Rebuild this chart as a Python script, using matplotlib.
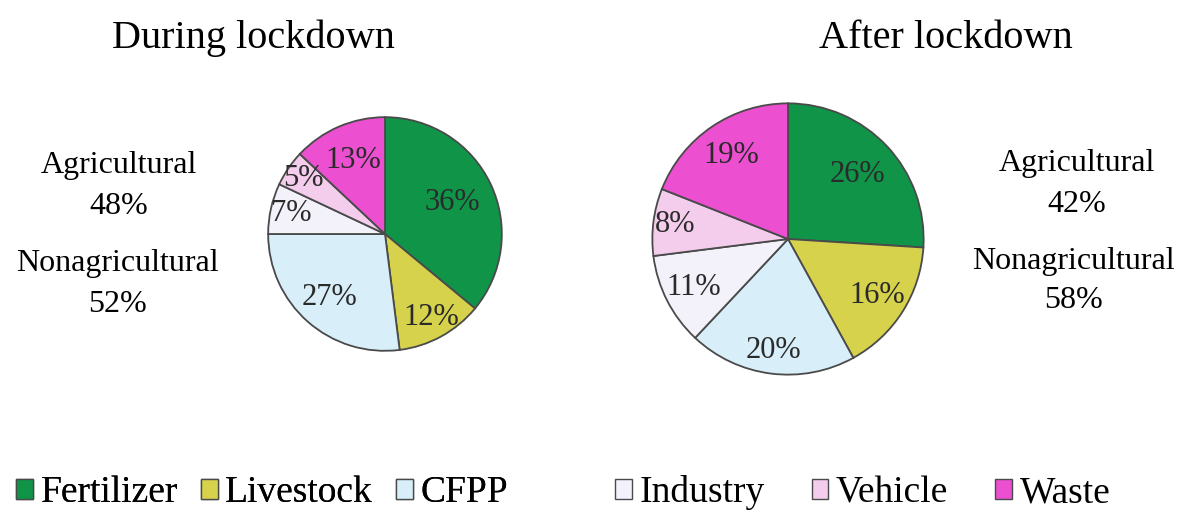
import matplotlib.pyplot as plt
from matplotlib.patches import Patch
import numpy as np

plt.rcParams['font.family'] = ['Liberation Serif', 'DejaVu Serif']

sources = ['Fertilizer', 'Livestock', 'CFPP', 'Industry', 'Vehicle', 'Waste']
during = [36, 12, 27, 7, 5, 13]
after = [26, 16, 20, 11, 8, 19]
agri_during, nonagri_during = 48, 52
agri_after, nonagri_after = 42, 58

colors = ['#0f9448', '#d6d24c', '#d8eef9', '#f3f1f9', '#f3cdeb', '#ec4fd0']
edge = '#4a4a4a'

W, H = 1181, 513
fig = plt.figure(figsize=(W / 100, H / 100), dpi=100)


def pie_at(cx, cy, r, values, label_r):
    # axes placed in pixel units so the pie lands where it should
    ax = fig.add_axes([(cx - r) / W, (H - cy - r) / H, 2 * r / W, 2 * r / H])
    wedges, _ = ax.pie(values, colors=colors, startangle=90, counterclock=False,
                       radius=1, wedgeprops=dict(edgecolor=edge, linewidth=1.3))
    for w, v, lr in zip(wedges, values, label_r):
        mid = np.deg2rad((w.theta1 + w.theta2) / 2)
        ax.text(lr * np.cos(mid), lr * np.sin(mid), f'{v}%', ha='center', va='center',
                fontsize=22, color='#2a2a2a')
    ax.set_xlim(-1.01, 1.01)
    ax.set_ylim(-1.01, 1.01)
    ax.axis('off')
    return ax


pie_at(385, 234, 118, during, [0.64, 0.82, 0.72, 0.82, 0.84, 0.69])
pie_at(788, 239, 137, after, [0.70, 0.78, 0.83, 0.78, 0.84, 0.74])

# titles
fig.text(253 / W, 1 - 38 / H, 'During lockdown', ha='center', va='center', fontsize=29)
fig.text(946 / W, 1 - 38 / H, 'After lockdown', ha='center', va='center', fontsize=29)

# sector totals
def share(x, y_top, name, pct):
    fig.text(x / W, 1 - y_top / H, name, ha='center', va='center', fontsize=23)
    fig.text(x / W, 1 - (y_top + 40) / H, f'{pct}%', ha='center', va='center', fontsize=23)

share(119, 166, 'Agricultural', agri_during)
share(117, 264, 'Nonagricultural', nonagri_during)
share(1077, 164, 'Agricultural', agri_after)
share(1073, 261, 'Nonagricultural', nonagri_after)

handles = [Patch(facecolor=c, edgecolor=edge, linewidth=1.0) for c in colors]
leg_kw = dict(ncol=3, loc='center left', frameon=False, fontsize=27,
              handlelength=0.45, handleheight=0.45, handletextpad=0.2,
              borderpad=0, borderaxespad=0)
leg1 = fig.legend(handles[:3], sources[:3], bbox_to_anchor=(16 / W, 1 - 493 / H),
                  columnspacing=0.62, **leg_kw)
fig.add_artist(leg1)
fig.legend(handles[3:], sources[3:], bbox_to_anchor=(615 / W, 1 - 493 / H),
           columnspacing=1.25, **leg_kw)

fig.savefig('out.png', dpi=100)
